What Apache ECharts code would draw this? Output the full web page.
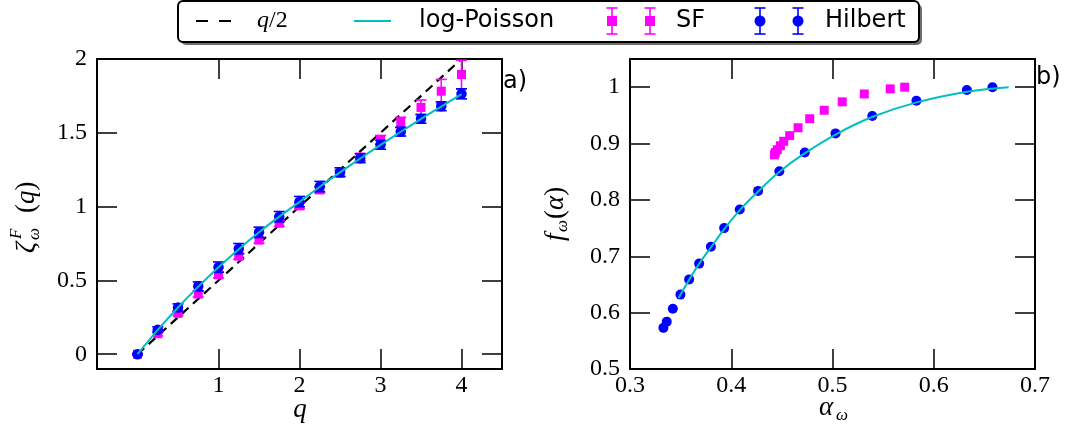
<!DOCTYPE html>
<html>
<head>
<meta charset="utf-8">
<script src="https://cdn.jsdelivr.net/npm/echarts@6/dist/echarts.min.js"></script>
<style>html,body{margin:0;padding:0;background:#fff;}#c{width:1070px;height:433px;}</style>
</head>
<body>
<div id="c"></div>
<script>
// ---- panel a) data ----
const qVals   = [0, 0.25, 0.5, 0.75, 1, 1.25, 1.5, 1.75, 2, 2.25, 2.5, 2.75, 3, 3.25, 3.5, 3.75, 4];
const sfZeta  = [0, 0.139, 0.277, 0.408, 0.538, 0.664, 0.773, 0.887, 1.005, 1.113, 1.226, 1.335, 1.452, 1.570, 1.672, 1.782, 1.895];
const sfErr   = [0.005, 0.015, 0.015, 0.02, 0.02, 0.02, 0.02, 0.02, 0.02, 0.02, 0.02, 0.025, 0.03, 0.035, 0.05, 0.08, 0.097];
const hilZeta = [0, 0.166, 0.316, 0.460, 0.590, 0.715, 0.826, 0.932, 1.034, 1.136, 1.233, 1.328, 1.419, 1.508, 1.595, 1.680, 1.764];
const hilErr  = [0.003, 0.02, 0.025, 0.03, 0.035, 0.035, 0.035, 0.035, 0.035, 0.035, 0.03, 0.03, 0.03, 0.03, 0.03, 0.03, 0.034];
const lpQ     = [0, 0.25, 0.5, 0.75, 1, 1.25, 1.5, 1.75, 2, 2.25, 2.5, 2.75, 3, 3.25, 3.5, 3.75, 4];
const lpZeta  = [0, 0.165, 0.317, 0.458, 0.590, 0.712, 0.826, 0.932, 1.032, 1.135, 1.232, 1.326, 1.418, 1.507, 1.594, 1.678, 1.762];
const halfQ    = [0, 4];
const halfZeta = [0, 2];
// ---- panel b) data ----
const alphaHil = [0.333, 0.3363, 0.3423, 0.3498, 0.3584, 0.3683, 0.3799, 0.393, 0.4084, 0.4265, 0.4475, 0.4726, 0.503, 0.5393, 0.5829, 0.6327, 0.658];
const fHil     = [0.573, 0.584, 0.607, 0.632, 0.659, 0.687, 0.717, 0.750, 0.783, 0.816, 0.851, 0.884, 0.918, 0.949, 0.976, 0.995, 1.0];
const alphaSF  = [0.4426, 0.4436, 0.4455, 0.4485, 0.4518, 0.4577, 0.466, 0.4775, 0.4918, 0.5096, 0.5314, 0.557, 0.5713];
const fSF      = [0.880, 0.884, 0.889, 0.896, 0.904, 0.914, 0.928, 0.944, 0.959, 0.974, 0.988, 0.997, 1.0];
const lpAlpha  = [0.348, 0.358, 0.368, 0.380, 0.393, 0.408, 0.426, 0.447, 0.472, 0.503, 0.539, 0.583, 0.633, 0.674];
const lpF      = [0.626, 0.657, 0.686, 0.716, 0.748, 0.781, 0.814, 0.849, 0.882, 0.916, 0.947, 0.973, 0.992, 1.0];
// ---- ticks ----
const xTicksA = [1, 2, 3, 4];
const yTicksA = [0, 0.5, 1, 1.5, 2];
const xTicksB = [0.3, 0.4, 0.5, 0.6, 0.7];
const yTicksB = [0.5, 0.6, 0.7, 0.8, 0.9, 1];

const BLUE = '#0000ff', MAG = '#ff00ff', CYAN = '#00bfbf';
const SERIF = '"Liberation Serif", "DejaVu Serif", serif';
const SANS = '"DejaVu Sans", sans-serif';
const fmt = v => String(+(+v).toFixed(2));

function zip(a, b) { return a.map((v, i) => [v, b[i]]); }
function zip3(a, b, c) { return a.map((v, i) => [v, b[i], c[i]]); }

function axisCommon(ticks, showLabel, pos, gridIndex, min, max, formatter) {
  return {
    type: 'value', gridIndex, position: pos, min, max,
    axisLine: { show: true, onZero: false, lineStyle: { color: '#000', width: 2 } },
    axisTick: { show: true, inside: true, length: 20, customValues: ticks, lineStyle: { color: '#000', width: 1.5 } },
    axisLabel: { show: showLabel, customValues: ticks, formatter: formatter || fmt, color: '#000',
                 fontFamily: 'Liberation Serif', fontSize: 24, margin: pos === 'left' ? 10 : 5 },
    splitLine: { show: false }
  };
}

function errRender(color) {
  return function (params, api) {
    const x = api.value(0), y = api.value(1), e = api.value(2);
    const t = api.coord([x, y + e]), b = api.coord([x, y - e]);
    const hw = 5.5;
    const st = { stroke: color, lineWidth: 1.6 };
    return { type: 'group', children: [
      { type: 'line', shape: { x1: t[0], y1: t[1], x2: b[0], y2: b[1] }, style: st },
      { type: 'line', shape: { x1: t[0] - hw, y1: t[1], x2: t[0] + hw, y2: t[1] }, style: st },
      { type: 'line', shape: { x1: b[0] - hw, y1: b[1], x2: b[0] + hw, y2: b[1] }, style: st }
    ] };
  };
}

const chart = echarts.init(document.getElementById('c'), null, { renderer: 'canvas' });

function legendMarker(cx, color, shape) {
  const cy = 21, e = 13, hw = 5.5;
  const st = { stroke: color, lineWidth: 1.6 };
  const m = shape === 'rect'
    ? { type: 'rect', shape: { x: cx - 5, y: cy - 5, width: 10, height: 10 }, style: { fill: color } }
    : { type: 'circle', shape: { cx, cy, r: 5.5 }, style: { fill: color } };
  return [
    { type: 'line', shape: { x1: cx, y1: cy - e, x2: cx, y2: cy + e }, style: st },
    { type: 'line', shape: { x1: cx - hw, y1: cy - e, x2: cx + hw, y2: cy - e }, style: st },
    { type: 'line', shape: { x1: cx - hw, y1: cy + e, x2: cx + hw, y2: cy + e }, style: st },
    m
  ];
}

const txt = (text, x, y, font, extra) => Object.assign({ type: 'text', x, y,
  style: { text, font, fill: '#000', align: 'left', verticalAlign: 'middle' } }, extra || {});

const legendItems = [].concat(
  [{ type: 'line', shape: { x1: 196, y1: 21, x2: 231, y2: 21 }, style: { stroke: '#000', lineWidth: 2.2, lineDash: [12, 11] } }],
  [{ type: 'text', x: 257, y: 21, style: { text: '{i|q}{u|/2}', fill: '#000', align: 'left', verticalAlign: 'middle',
      rich: { i: { font: 'italic 24px ' + SERIF }, u: { font: '24px ' + SERIF } } } }],
  [{ type: 'line', shape: { x1: 354, y1: 21, x2: 391, y2: 21 }, style: { stroke: CYAN, lineWidth: 2 } }],
  [txt('log-Poisson', 419, 21, '24px ' + SANS)],
  legendMarker(612, MAG, 'rect'), legendMarker(650, MAG, 'rect'),
  [txt('SF', 676, 21, '24px ' + SANS)],
  legendMarker(760, BLUE, 'circle'), legendMarker(798, BLUE, 'circle'),
  [txt('Hilbert', 825, 21, '24px ' + SANS)]
);

const option = {
  animation: false,
  backgroundColor: '#fff',
  grid: [
    { left: 97, top: 59, width: 405, height: 310 },
    { left: 630, top: 59, width: 405, height: 310 }
  ],
  xAxis: [
    axisCommon(xTicksA, true, 'bottom', 0, -0.5, 4.5),
    axisCommon(xTicksA, false, 'top', 0, -0.5, 4.5),
    axisCommon(xTicksB, true, 'bottom', 1, 0.3, 0.7, v => (+v).toFixed(1)),
    axisCommon(xTicksB, false, 'top', 1, 0.3, 0.7)
  ],
  yAxis: [
    axisCommon(yTicksA, true, 'left', 0, -0.1, 2),
    axisCommon(yTicksA, false, 'right', 0, -0.1, 2),
    axisCommon(yTicksB, true, 'left', 1, 0.5, 1.05, v => (Math.abs(v - 1) < 1e-9 ? '1' : (+v).toFixed(1))),
    axisCommon(yTicksB, false, 'right', 1, 0.5, 1.05)
  ],
  series: [
    { name: 'q/2', type: 'line', xAxisIndex: 0, yAxisIndex: 0, data: zip(halfQ, halfZeta), symbol: 'none', z: 1,
      lineStyle: { color: '#000', width: 2.2, type: [9, 6] } },
    { name: 'SF err', type: 'custom', xAxisIndex: 0, yAxisIndex: 0, data: zip3(qVals, sfZeta, sfErr),
      renderItem: errRender(MAG), z: 2, encode: { x: 0, y: 1 } },
    { name: 'SF', type: 'scatter', xAxisIndex: 0, yAxisIndex: 0, data: zip(qVals, sfZeta), symbol: 'rect', symbolSize: 9,
      itemStyle: { color: MAG, opacity: 1 }, z: 3 },
    { name: 'Hilbert err', type: 'custom', xAxisIndex: 0, yAxisIndex: 0, data: zip3(qVals, hilZeta, hilErr),
      renderItem: errRender(BLUE), z: 4, encode: { x: 0, y: 1 } },
    { name: 'Hilbert', type: 'scatter', xAxisIndex: 0, yAxisIndex: 0, data: zip(qVals, hilZeta), symbol: 'circle', symbolSize: 10.5,
      itemStyle: { color: BLUE, opacity: 1 }, z: 5 },
    { name: 'log-Poisson', type: 'line', xAxisIndex: 0, yAxisIndex: 0, data: zip(lpQ, lpZeta), symbol: 'none', smooth: 0.3, z: 6,
      lineStyle: { color: CYAN, width: 2 } },

    { name: 'SF b', type: 'scatter', xAxisIndex: 2, yAxisIndex: 2, data: zip(alphaSF, fSF), symbol: 'rect', symbolSize: 9,
      itemStyle: { color: MAG, opacity: 1 }, z: 3 },
    { name: 'Hilbert b', type: 'scatter', xAxisIndex: 2, yAxisIndex: 2, data: zip(alphaHil, fHil), symbol: 'circle', symbolSize: 10,
      itemStyle: { color: BLUE, opacity: 1 }, z: 5 },
    { name: 'log-Poisson b', type: 'line', xAxisIndex: 2, yAxisIndex: 2, data: zip(lpAlpha, lpF), symbol: 'none', smooth: 0.4, z: 6,
      lineStyle: { color: CYAN, width: 2 } }
  ],
  graphic: [].concat(
    [
      { type: 'rect', shape: { x: 181, y: 4, width: 741, height: 41, r: 5 }, style: { fill: '#6e6e6e' } },
      { type: 'rect', shape: { x: 178, y: 1, width: 741, height: 41, r: 5 }, style: { fill: '#fff', stroke: '#000', lineWidth: 2 } }
    ],
    legendItems,
    [
      txt('a)', 503, 82, '24px ' + SANS),
      txt('b)', 1036, 78, '24px ' + SANS),
      { type: 'text', x: 300, y: 410, style: { text: 'q', font: 'italic 27px ' + SERIF, fill: '#000', align: 'center', verticalAlign: 'middle' } },
      txt('α', 819, 408, 'italic 27px ' + SERIF),
      txt('ω', 836, 416, 'italic 17px ' + SERIF),
      { type: 'group', x: 27, y: 253, rotation: Math.PI / 2, children: [
        txt('ζ', 0, 0, 'italic 27px ' + SERIF),
        txt('ω', 13, 8, 'italic 17px ' + SERIF),
        txt('F', 14, -10, 'italic 17px ' + SERIF),
        { type: 'text', x: 40, y: 0, style: { text: '{u|(}{i|q}{u|)}', fill: '#000', align: 'left', verticalAlign: 'middle',
          rich: { u: { font: '27px ' + SERIF }, i: { font: 'italic 27px ' + SERIF } } } }
      ] },
      { type: 'group', x: 556, y: 241, rotation: Math.PI / 2, children: [
        txt('f', 0, 0, 'italic 27px ' + SERIF),
        txt('ω', 9, 7, 'italic 17px ' + SERIF),
        { type: 'text', x: 22, y: 0, style: { text: '{u|(}{i|α}{u|)}', fill: '#000', align: 'left', verticalAlign: 'middle',
          rich: { u: { font: '27px ' + SERIF }, i: { font: 'italic 27px ' + SERIF } } } }
      ] }
    ]
  )
};
chart.setOption(option);
</script>
</body>
</html>
